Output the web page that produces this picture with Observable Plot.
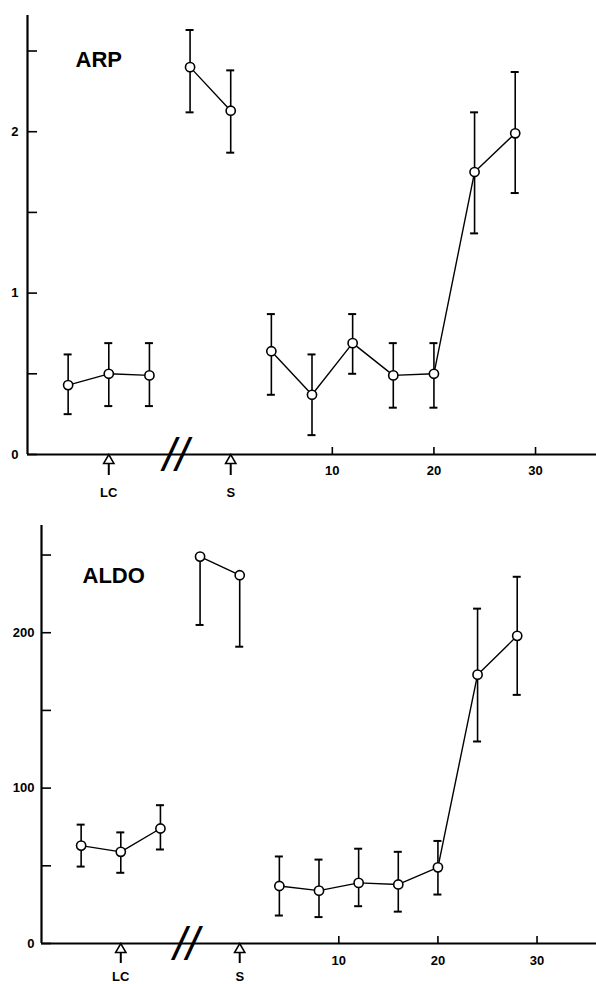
<!DOCTYPE html>
<html><head><meta charset="utf-8">
<script src="https://cdn.jsdelivr.net/npm/d3@7"></script>
<script src="https://cdn.jsdelivr.net/npm/@observablehq/plot@0.6"></script>
<style>
body{margin:0;background:#fff}
#chart svg{display:block}
</style>
</head><body><div id="chart"></div>
<script>
// x positions: study days (pre-break control points placed on a virtual timeline)
const days    = [-16, -12, -8, -4, 0, 4, 8, 12, 16, 20, 24, 28];
const segment = [0, 0, 0, 1, 1, 2, 2, 2, 2, 2, 2, 2];

// ARP (top panel)
const arpMean = [0.43, 0.50, 0.49, 2.40, 2.13, 0.64, 0.37, 0.69, 0.49, 0.50, 1.75, 1.99];
const arpLo   = [0.25, 0.30, 0.30, 2.12, 1.87, 0.37, 0.12, 0.50, 0.29, 0.29, 1.37, 1.62];
const arpHi   = [0.62, 0.69, 0.69, 2.63, 2.38, 0.87, 0.62, 0.87, 0.69, 0.69, 2.12, 2.37];

// ALDO (bottom panel)
const aldoMean = [63, 59, 74, 249, 237, 37, 34, 39, 38, 49, 173, 198];
const aldoLo   = [49.5, 45.5, 60.5, 205, 191, 18, 17, 24, 20.5, 31.5, 130, 160];
const aldoHi   = [76.5, 71.5, 89, null, null, 56, 54, 61, 59, 66, 215.5, 236];

// tick labels / annotations
const xTicks = [10, 20, 30];
const arpTicks = [0, 0.5, 1, 1.5, 2, 2.5];
const arpLabels = [0, 1, 2];
const aldoTicks = [0, 50, 100, 150, 200, 250];
const aldoLabels = [0, 100, 200];
const eventDays = [-12, 0];
const eventNames = ["LC", "S"];
const breakDay = -5.4;

const events = eventDays.map((d, i) => ({day: d, name: eventNames[i]}));

function rowsOf(mean, lo, hi) {
  return days.map((d, i) => ({day: d, seg: segment[i], v: mean[i], lo: lo[i], hi: hi[i]}));
}

function panel({rows, yDomain, ticks, labels, title, height, marginLeft, marginTop, marginBottom,
                titleDx, titleDy, yPad, xPad, evDy, arrowDy}) {
  const x0 = -20;
  return Plot.plot({
    width: 596, height, marginLeft, marginRight: 0, marginTop, marginBottom,
    style: {fontFamily: "Liberation Sans, Arial, sans-serif", fontSize: "13px", fontWeight: "bold", background: "#fff"},
    x: {domain: [x0, 36], label: null},
    y: {domain: yDomain, label: null},
    marks: [
      Plot.axisY({ticks, tickSize: -10, tickFormat: () => "", strokeWidth: 1.6, label: null}),
      Plot.axisY({ticks: labels, tickSize: 0, tickPadding: yPad, tickFormat: d => String(d), letterSpacing: "1.5px", label: null}),
      Plot.axisX({ticks: xTicks, tickSize: -7, tickFormat: () => "", strokeWidth: 1.6, label: null}),
      Plot.axisX({ticks: xTicks, tickSize: 0, tickPadding: xPad, tickFormat: d => String(d), letterSpacing: "1.5px", label: null}),
      Plot.ruleY([0], {strokeWidth: 2.2}),
      Plot.ruleX([x0], {strokeWidth: 2.2}),
      Plot.text(["//"], {x: breakDay, y: 0, text: d => d, fontSize: 46, fontWeight: "normal", fontStyle: "italic", letterSpacing: "-2px", dy: 2}),
      Plot.ruleX(events, {x: "day", y1: 0, y2: 0, insetTop: 9, insetBottom: -arrowDy, strokeWidth: 2}),
      Plot.dot(events, {x: "day", y: 0, symbol: "triangle", r: 3.8, fill: "white", stroke: "black", strokeWidth: 1.6, dy: 6}),
      Plot.text(events, {x: "day", y: 0, text: "name", dy: evDy, fontSize: 13, letterSpacing: "2px"}),
      Plot.ruleX(rows, {x: "day", y1: "lo", y2: d => d.hi ?? d.v, strokeWidth: 1.6}),
      Plot.ruleY(rows, {y: "lo", x1: "day", x2: "day", insetLeft: -4, insetRight: -4, strokeWidth: 2}),
      Plot.ruleY(rows.filter(d => d.hi != null), {y: "hi", x1: "day", x2: "day", insetLeft: -4, insetRight: -4, strokeWidth: 2}),
      Plot.line(rows, {x: "day", y: "v", z: "seg", stroke: "black", strokeWidth: 1.4}),
      Plot.dot(rows, {x: "day", y: "v", r: 4.6, fill: "white", stroke: "black", strokeWidth: 1.6}),
      Plot.text([title], {frameAnchor: "top-left", text: d => d, dx: titleDx, dy: titleDy, fontSize: 22, fontWeight: "bold", letterSpacing: "2px", textAnchor: "start", lineAnchor: "top"})
    ]
  });
}

const topPanel = panel({
  rows: rowsOf(arpMean, arpLo, arpHi), yDomain: [0, 2.72], ticks: arpTicks, labels: arpLabels,
  title: "ARP", height: 500, marginLeft: 27, marginTop: 15, marginBottom: 46,
  titleDx: 48, titleDy: 36, yPad: 9, xPad: 11, evDy: 38, arrowDy: 21
});
const bottomPanel = panel({
  rows: rowsOf(aldoMean, aldoLo, aldoHi), yDomain: [0, 269], ticks: aldoTicks, labels: aldoLabels,
  title: "ALDO", height: 484, marginLeft: 41, marginTop: 25, marginBottom: 41,
  titleDx: 41, titleDy: 42, yPad: 7, xPad: 12, evDy: 33, arrowDy: 20
});
document.getElementById("chart").append(topPanel, bottomPanel);
</script>
</body></html>
